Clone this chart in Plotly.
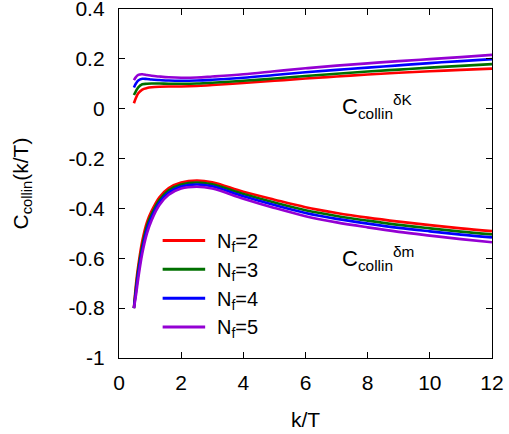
import plotly.graph_objects as go

# k/T sample points
k_over_T = [0.48, 0.55, 0.62, 0.75, 0.9, 1.05, 1.3, 1.6, 2.0, 2.5, 3.0,
            4.0, 5.0, 6.0, 7.0, 8.0, 9.0, 10.0, 11.0, 12.0]

# C_collin^{deltaK}(k/T) for each number of flavours
dK_nf2 = [0.022, 0.045, 0.062, 0.077, 0.083, 0.086, 0.088, 0.089, 0.089, 0.091, 0.095,
          0.103, 0.112, 0.121, 0.129, 0.137, 0.144, 0.150, 0.156, 0.161]
dK_nf3 = [0.055, 0.072, 0.086, 0.098, 0.100, 0.101, 0.101, 0.100, 0.100, 0.101, 0.104,
          0.112, 0.121, 0.131, 0.140, 0.149, 0.157, 0.165, 0.172, 0.179]
dK_nf4 = [0.085, 0.102, 0.113, 0.120, 0.119, 0.117, 0.115, 0.113, 0.112, 0.113, 0.116,
          0.124, 0.135, 0.146, 0.156, 0.165, 0.174, 0.183, 0.191, 0.199]
dK_nf5 = [0.115, 0.128, 0.136, 0.138, 0.135, 0.132, 0.129, 0.126, 0.124, 0.125, 0.129,
          0.138, 0.150, 0.162, 0.173, 0.182, 0.191, 0.199, 0.207, 0.216]

# C_collin^{deltam}(k/T) for each number of flavours
dm_nf2 = [-0.80, -0.70, -0.63, -0.53, -0.455, -0.41, -0.355, -0.318, -0.296, -0.288, -0.295,
          -0.333, -0.365, -0.395, -0.418, -0.437, -0.453, -0.467, -0.480, -0.491]
dm_nf3 = [-0.80, -0.715, -0.645, -0.55, -0.47, -0.423, -0.366, -0.327, -0.304, -0.296, -0.303,
          -0.342, -0.376, -0.407, -0.430, -0.449, -0.466, -0.480, -0.493, -0.504]
dm_nf4 = [-0.80, -0.73, -0.66, -0.565, -0.485, -0.435, -0.376, -0.336, -0.312, -0.304, -0.311,
          -0.351, -0.386, -0.418, -0.442, -0.461, -0.478, -0.492, -0.505, -0.516]
dm_nf5 = [-0.80, -0.745, -0.68, -0.58, -0.50, -0.447, -0.386, -0.345, -0.320, -0.313, -0.320,
          -0.361, -0.398, -0.431, -0.456, -0.476, -0.494, -0.509, -0.523, -0.536]

flavours = ["2", "3", "4", "5"]
colors = ["#ff0000", "#007000", "#0000ff", "#9400d3"]

x_ticks = [0, 2, 4, 6, 8, 10, 12]
x_ticktext = ["0", "2", "4", "6", "8", "10", "12"]
y_ticks = [0.4, 0.2, 0, -0.2, -0.4, -0.6, -0.8, -1]
y_ticktext = ["0.4", "0.2", "0", "-0.2", "-0.4", "-0.6", "-0.8", "-1"]

font_family = "Liberation Sans, Arial, sans-serif"

fig = go.Figure()
for nf, col, dk, dm in zip(flavours, colors,
                           [dK_nf2, dK_nf3, dK_nf4, dK_nf5],
                           [dm_nf2, dm_nf3, dm_nf4, dm_nf5]):
    fig.add_trace(go.Scatter(x=k_over_T, y=dm, mode="lines", line_shape="spline",
                             line=dict(color=col, width=2.6),
                             name=f"N<sub>f</sub>={nf}", showlegend=False))
    fig.add_trace(go.Scatter(x=k_over_T, y=dk, mode="lines", line_shape="spline",
                             line=dict(color=col, width=2.6),
                             name=f"N<sub>f</sub>={nf}", showlegend=False))

# Legend key: short coloured line followed by the label, stacked top to bottom
key_x0, key_x1, key_text_x = 0.117, 0.231, 0.257
key_y = [0.337, 0.254, 0.171, 0.089]
for nf, col, ky in zip(flavours, colors, key_y):
    fig.add_shape(type="line", xref="paper", yref="paper",
                  x0=key_x0, x1=key_x1, y0=ky, y1=ky,
                  line=dict(color=col, width=3))
    fig.add_annotation(x=key_text_x, y=ky, xref="paper", yref="paper",
                       xanchor="left", yanchor="middle", yshift=-2,
                       text=f"N<sub>f</sub>={nf}", showarrow=False,
                       font=dict(size=20, color="black", family=font_family))

fig.add_annotation(x=7.12, y=0.01, xref="x", yref="y", xanchor="left",
                   text="C<sub>collin</sub><sup>δK</sup>", showarrow=False,
                   font=dict(size=22, color="black", family=font_family))
fig.add_annotation(x=7.12, y=-0.60, xref="x", yref="y", xanchor="left",
                   text="C<sub>collin</sub><sup>δm</sup>", showarrow=False,
                   font=dict(size=22, color="black", family=font_family))

axis_common = dict(showline=True, linecolor="black", linewidth=1.3, mirror="ticks",
                   ticks="inside", ticklen=6, tickcolor="black", tickwidth=1,
                   showgrid=False, zeroline=False, ticklabeloverflow="allow",
                   automargin=False,
                   tickfont=dict(size=21, color="black", family=font_family))

fig.update_xaxes(range=[0, 12], tickvals=x_ticks, ticktext=x_ticktext,
                 ticklabelstandoff=6,
                 title=dict(text="k/T", font=dict(size=21, color="black", family=font_family),
                            standoff=18),
                 **axis_common)
fig.update_yaxes(range=[-1, 0.4], tickvals=y_ticks, ticktext=y_ticktext,
                 ticklabelstandoff=9,
                 title=dict(text="C<sub>collin</sub>(k/T)",
                            font=dict(size=21, color="black", family=font_family),
                            standoff=34),
                 **axis_common)

fig.update_layout(
    width=509, height=434,
    margin=dict(l=119, r=17, t=9, b=76),
    plot_bgcolor="white", paper_bgcolor="white",
    font=dict(family=font_family, color="black"),
    showlegend=False,
)

fig.write_html("out.html")
